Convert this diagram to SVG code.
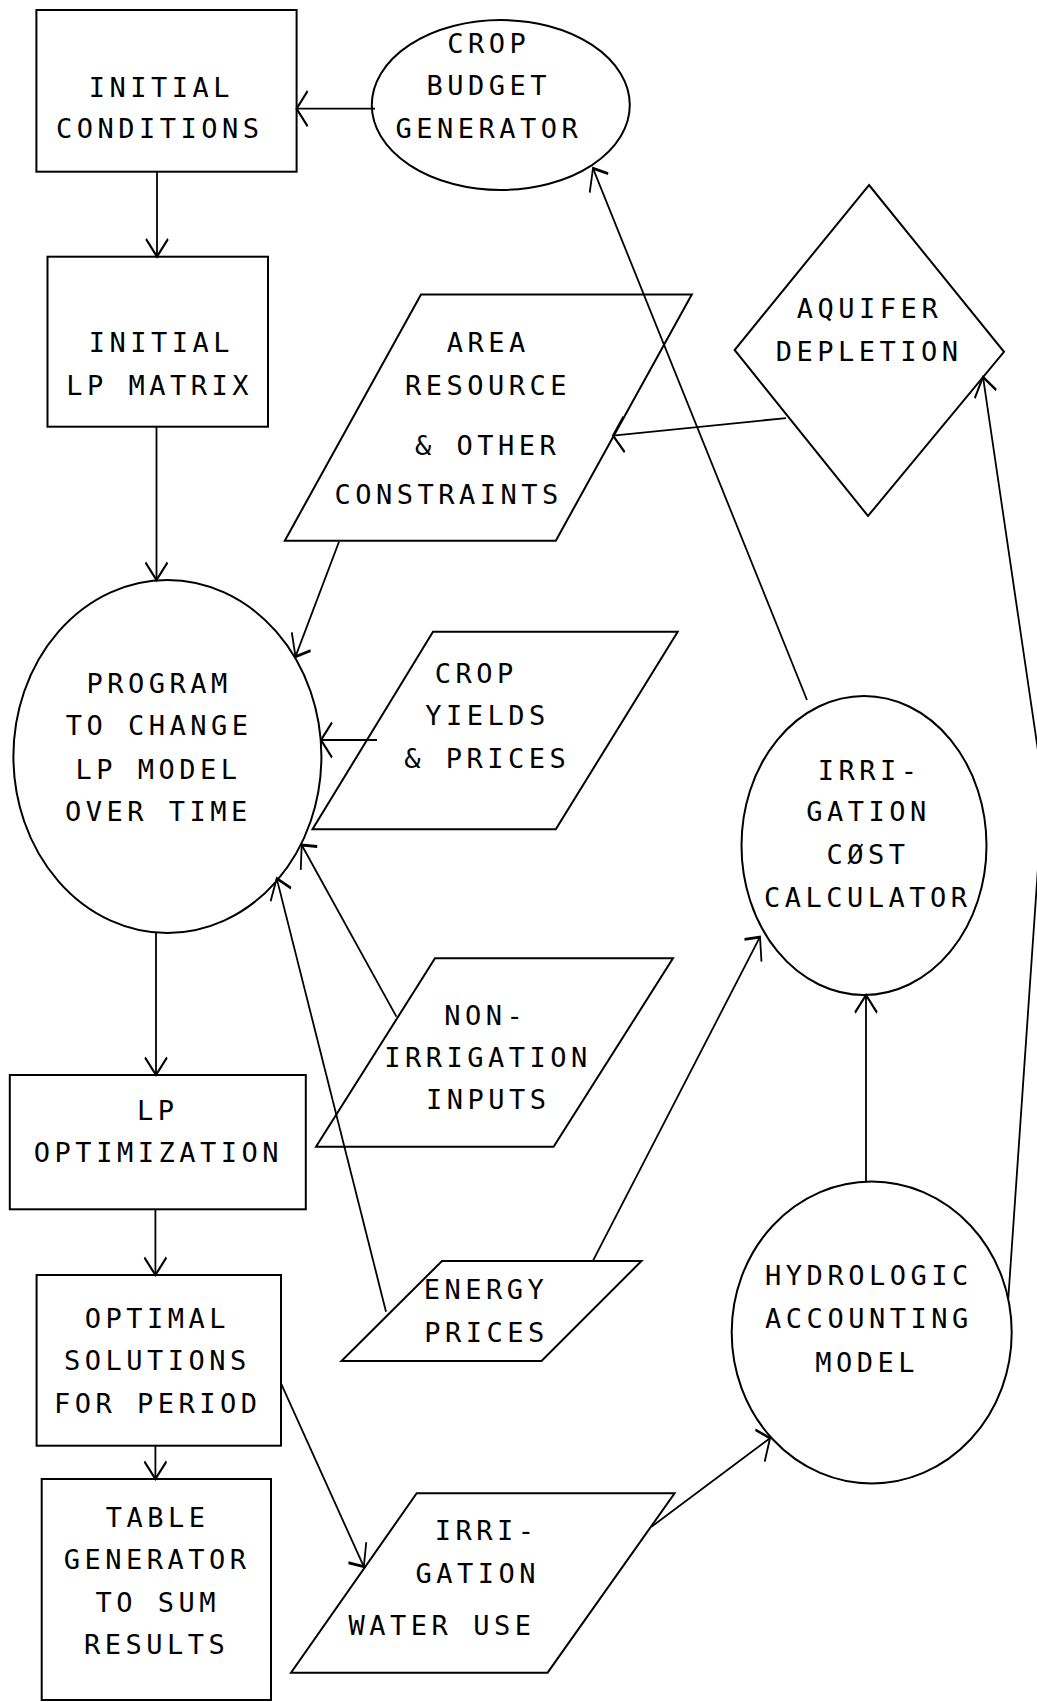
<svg xmlns="http://www.w3.org/2000/svg" width="1037" height="1702" viewBox="0 0 1037 1702">
<style>
.s{fill:none;stroke:#000;stroke-width:2}
.c{fill:none;stroke:#000;stroke-width:1.8;vector-effect:non-scaling-stroke}
text{font-family:"DejaVu Sans Mono","Liberation Mono",monospace;font-size:27px;letter-spacing:4.5px;text-anchor:middle;fill:#000}
</style>
<defs>
<marker id="ah" markerUnits="userSpaceOnUse" orient="auto" refX="0" refY="0" markerWidth="30" markerHeight="30" viewBox="-15 -15 30 30" overflow="visible">
<path d="M-11,-11 L0,0 L-11,11" fill="none" stroke="#000" stroke-width="1.8" vector-effect="non-scaling-stroke"/>
</marker>
</defs>
<rect width="1037" height="1702" fill="#fff"/>

<g id="initial-conditions">
<rect class="s" x="36.4" y="10" width="260.2" height="161.7"/>
<text x="161.4" y="97">INITIAL</text>
<text x="159.7" y="138">CONDITIONS</text>
</g>
<g id="initial-lp-matrix">
<rect class="s" x="47.5" y="256.7" width="220.5" height="170"/>
<text x="161.4" y="352">INITIAL</text>
<text x="159.7" y="395">LP MATRIX</text>
</g>
<g id="crop-budget-generator">
<ellipse class="s" cx="500.8" cy="105" rx="129" ry="85"/>
<text x="488.7" y="53.3">CROP</text>
<text x="488.7" y="95">BUDGET</text>
<text x="488.9" y="138.3">GENERATOR</text>
</g>
<g id="aquifer-depletion">
<polygon class="s" points="869,185 1004,351.8 868,516 734.6,350"/>
<text x="869.5" y="318">AQUIFER</text>
<text x="869.2" y="360.7">DEPLETION</text>
</g>
<g id="area-resource">
<polygon class="s" points="421,294.5 691.8,294.5 555.8,540.7 284.8,540.7"/>
<text x="488.2" y="352">AREA</text>
<text x="487.9" y="395">RESOURCE</text>
<text x="487.7" y="455">&amp; OTHER</text>
<text x="448.6" y="504">CONSTRAINTS</text>
</g>
<g id="program">
<ellipse class="s" cx="167.4" cy="756.5" rx="154" ry="176.5"/>
<text x="159.1" y="693.3">PROGRAM</text>
<text x="159.2" y="735">TO CHANGE</text>
<text x="158.5" y="779">LP MODEL</text>
<text x="158.4" y="820.7">OVER TIME</text>
</g>
<g id="crop-yields">
<polygon class="s" points="433,631.7 677.7,631.7 555.8,829.3 312.5,829.3"/>
<text x="476.2" y="683">CROP</text>
<text x="487.5" y="725">YIELDS</text>
<text x="487.2" y="768">&amp; PRICES</text>
</g>
<g id="irrigation-cost">
<ellipse class="s" cx="864" cy="845.5" rx="122.5" ry="149.5"/>
<text x="869.7" y="779.5">IRRI-</text>
<text x="868.5" y="821">GATION</text>
<text x="868" y="864">CØST</text>
<text x="867.7" y="907">CALCULATOR</text>
</g>
<g id="non-irrigation">
<polygon class="s" points="435,958.3 673,958.3 553.6,1146.7 316,1146.7"/>
<text x="485.7" y="1025">NON-</text>
<text x="488" y="1066.7">IRRIGATION</text>
<text x="488.2" y="1109.3">INPUTS</text>
</g>
<g id="lp-optimization">
<rect class="s" x="9.8" y="1075" width="296" height="134.3"/>
<text x="157.7" y="1120">LP</text>
<text x="158.4" y="1161.7">OPTIMIZATION</text>
</g>
<g id="optimal-solutions">
<rect class="s" x="36.6" y="1275" width="244.4" height="170.7"/>
<text x="157.3" y="1328">OPTIMAL</text>
<text x="157.3" y="1370">SOLUTIONS</text>
<text x="157.7" y="1413.3">FOR PERIOD</text>
</g>
<g id="energy-prices">
<polygon class="s" points="442,1261 641.5,1261 541.5,1361 341.5,1361"/>
<text x="486.1" y="1299">ENERGY</text>
<text x="486.6" y="1341.7">PRICES</text>
</g>
<g id="hydrologic">
<ellipse class="s" cx="871.7" cy="1332.5" rx="140" ry="151"/>
<text x="868.9" y="1285">HYDROLOGIC</text>
<text x="868.9" y="1328.3">ACCOUNTING</text>
<text x="867.2" y="1371.7">MODEL</text>
</g>
<g id="table-generator">
<rect class="s" x="41.7" y="1479" width="229.3" height="221"/>
<text x="157.6" y="1526.7">TABLE</text>
<text x="157.2" y="1569.3">GENERATOR</text>
<text x="157.7" y="1611.7">TO SUM</text>
<text x="156.6" y="1654">RESULTS</text>
</g>
<g id="irrigation-water-use">
<polygon class="s" points="416.7,1493.3 674.6,1493.3 547.6,1672.7 291,1672.7"/>
<text x="486.7" y="1540">IRRI-</text>
<text x="477.7" y="1583.3">GATION</text>
<text x="442" y="1635">WATER USE</text>
</g>

<g id="connectors" transform="scale(1,1.6)">
<path class="c" marker-end="url(#ah)" d="M375,67.94 L296.6,67.94"/>
<path class="c" marker-end="url(#ah)" d="M157,107.3 L157,160.4"/>
<path class="c" marker-end="url(#ah)" d="M156.5,266.7 L156.5,362.5"/>
<path class="c" marker-end="url(#ah)" d="M339,338.6 L295.5,410.4"/>
<path class="c" marker-end="url(#ah)" d="M377,462.5 L321,462.5"/>
<path class="c" marker-end="url(#ah)" d="M396.4,635.4 L301.7,528.1"/>
<path class="c" marker-end="url(#ah)" d="M386,819.8 L276.7,549"/>
<path class="c" marker-end="url(#ah)" d="M156,583.1 L156,671.9"/>
<path class="c" marker-end="url(#ah)" d="M155.4,755.8 L155.4,796.9"/>
<path class="c" marker-end="url(#ah)" d="M155.4,903.6 L155.4,924.4"/>
<path class="c" marker-end="url(#ah)" d="M281,864.6 L363.8,979.2"/>
<path class="c" marker-end="url(#ah)" d="M651.5,954.2 L770,898.9"/>
<path class="c" marker-end="url(#ah)" d="M866,738.6 L866,621.9"/>
<path class="c" marker-end="url(#ah)" d="M592.9,788.1 L760,585.6"/>
<path class="c" marker-end="url(#ah)" d="M807,437.5 L593,105.2"/>
<path class="c" marker-end="url(#ah)" d="M1008.3,811.4 L1043.5,492.5 L983,235.6"/>
<path class="c" marker-end="url(#ah)" d="M786,261.3 L613,272.3"/>
</g>
</svg>
